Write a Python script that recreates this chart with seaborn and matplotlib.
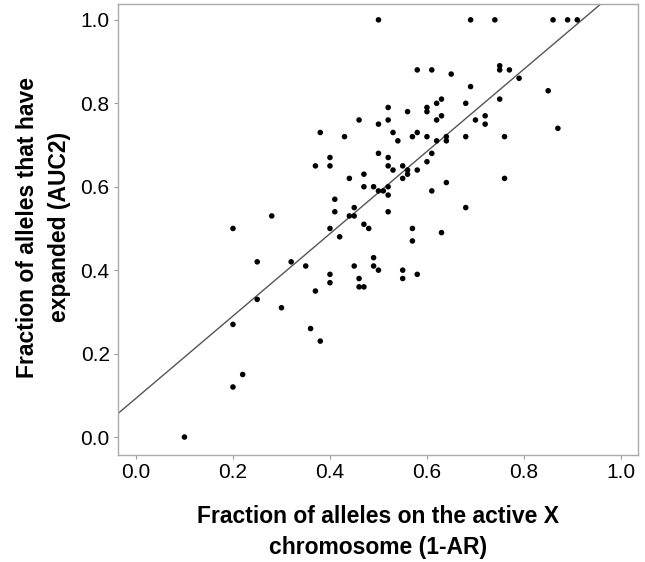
import numpy as np
import pandas as pd
import matplotlib
matplotlib.use("Agg")
import matplotlib.pyplot as plt
import seaborn as sns

# Values
active_x = [0.10, 0.20, 0.22, 0.20, 0.36, 0.38, 0.30, 0.25, 0.37, 0.25,
            0.32, 0.35, 0.40, 0.40, 0.45, 0.46, 0.46, 0.47, 0.49, 0.49,
            0.50, 0.55, 0.55, 0.58, 0.57, 0.63, 0.57, 0.42, 0.40, 0.47,
            0.48, 0.20, 0.28, 0.44, 0.45, 0.45, 0.41, 0.41, 0.52, 0.68,
            0.52, 0.50, 0.51, 0.61, 0.47, 0.49, 0.52, 0.64, 0.44, 0.55,
            0.76, 0.47, 0.56, 0.53, 0.56, 0.58, 0.37, 0.40, 0.52, 0.55,
            0.60, 0.40, 0.52, 0.50, 0.61, 0.54, 0.62, 0.64, 0.43, 0.57,
            0.60, 0.64, 0.68, 0.76, 0.38, 0.53, 0.58, 0.87, 0.50, 0.72,
            0.46, 0.52, 0.62, 0.70, 0.63, 0.72, 0.56, 0.60, 0.52, 0.60,
            0.62, 0.68, 0.63, 0.75, 0.85, 0.69, 0.79, 0.65, 0.58, 0.61,
            0.75, 0.77, 0.75, 0.50, 0.69, 0.74, 0.86, 0.89, 0.91]
expanded = [0.00, 0.12, 0.15, 0.27, 0.26, 0.23, 0.31, 0.33, 0.35, 0.42,
            0.42, 0.41, 0.39, 0.37, 0.41, 0.38, 0.36, 0.36, 0.43, 0.41,
            0.40, 0.40, 0.38, 0.39, 0.47, 0.49, 0.50, 0.48, 0.50, 0.51,
            0.50, 0.50, 0.53, 0.53, 0.53, 0.55, 0.54, 0.57, 0.54, 0.55,
            0.58, 0.59, 0.59, 0.59, 0.60, 0.60, 0.60, 0.61, 0.62, 0.62,
            0.62, 0.63, 0.63, 0.64, 0.64, 0.64, 0.65, 0.65, 0.65, 0.65,
            0.66, 0.67, 0.67, 0.68, 0.68, 0.71, 0.71, 0.71, 0.72, 0.72,
            0.72, 0.72, 0.72, 0.72, 0.73, 0.73, 0.73, 0.74, 0.75, 0.75,
            0.76, 0.76, 0.76, 0.76, 0.77, 0.77, 0.78, 0.78, 0.79, 0.79,
            0.80, 0.80, 0.81, 0.81, 0.83, 0.84, 0.86, 0.87, 0.88, 0.88,
            0.88, 0.88, 0.89, 1.00, 1.00, 1.00, 1.00, 1.00, 1.00]

# fitted line as it appears in the figure
fit_intercept = 0.093
fit_slope = 0.986

ticks = [0.0, 0.2, 0.4, 0.6, 0.8, 1.0]
tick_labels = ["0.0", "0.2", "0.4", "0.6", "0.8", "1.0"]

df = pd.DataFrame({"x": active_x, "y": expanded})

sns.set_theme(style="white")
plt.rcParams["font.family"] = ["Liberation Sans", "DejaVu Sans"]

fig = plt.figure(figsize=(6.45, 5.62), dpi=100)
ax = fig.add_axes([0.183, 0.1904, 0.806, 0.8025])

sns.scatterplot(data=df, x="x", y="y", color="black", s=16,
                edgecolor="none", ax=ax, zorder=3)
ax.axline((0, fit_intercept), slope=fit_slope, color="#555555", lw=1.0, zorder=2)

ax.set_xlim(-0.037, 1.035)
ax.set_ylim(-0.043, 1.038)
ax.set_xticks(ticks)
ax.set_xticklabels(tick_labels)
ax.set_yticks(ticks)
ax.set_yticklabels(tick_labels)
ax.tick_params(axis="both", length=3, width=0.8, color="#999999",
               labelsize=15, labelcolor="black", pad=3, bottom=True, left=True)

for side in ["left", "right", "top", "bottom"]:
    ax.spines[side].set_visible(True)
    ax.spines[side].set_color("#aaaaaa")
    ax.spines[side].set_linewidth(1.0)

ax.set_xlabel("Fraction of alleles on the active X\nchromosome (1-AR)",
              fontsize=16.5, fontweight="bold", linespacing=1.45, color="black")
ax.set_ylabel("Fraction of alleles that have\nexpanded (AUC2)",
              fontsize=16.5, fontweight="bold", linespacing=1.5, color="black")
ax.xaxis.set_label_coords(0.5, -0.11)
ax.yaxis.set_label_coords(-0.09, 0.505)

fig.savefig("out.png", dpi=100)
